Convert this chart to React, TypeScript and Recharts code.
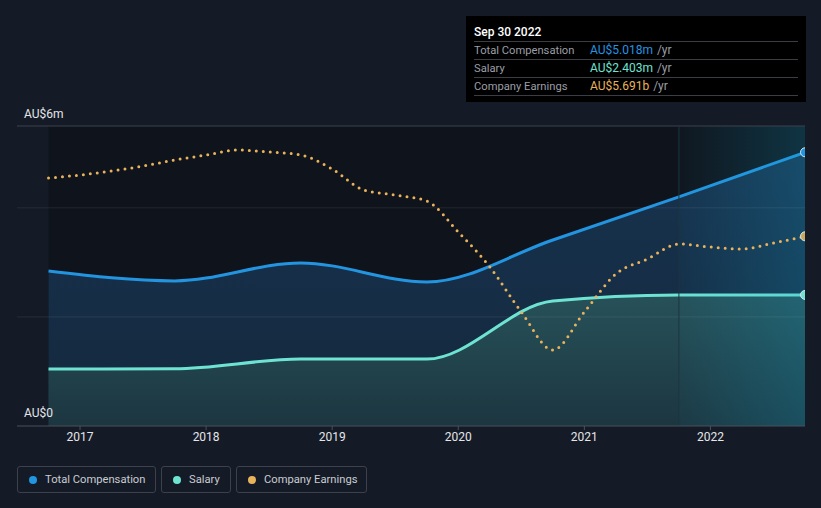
import React from "react";
import {
  ComposedChart,
  Area,
  Line,
  XAxis,
  YAxis,
  ReferenceArea,
  ReferenceLine,
} from "recharts";

// yearly points (Sep 30 of each year), AU$ millions
const compYears = [2016.75, 2017.75, 2018.75, 2019.75, 2020.75, 2021.75, 2022.75];
const totalComp = [2.84, 2.66, 2.99, 2.64, 3.41, 4.2, 5.018];
const salary = [1.044, 1.05, 1.227, 1.227, 2.29, 2.4, 2.403];

// quarterly company earnings, AU$ billions
const earnQuarters = [
  2016.75, 2017, 2017.25, 2017.5, 2017.75, 2018, 2018.25, 2018.5, 2018.75, 2019, 2019.25,
  2019.5, 2019.75, 2020, 2020.25, 2020.5, 2020.75, 2021, 2021.25, 2021.5, 2021.75, 2022,
  2022.25, 2022.5, 2022.75,
];
const earnings = [
  7.44, 7.53, 7.65, 7.8, 7.98, 8.13, 8.28, 8.22, 8.13, 7.71, 7.08, 6.93, 6.75, 5.82, 4.77,
  3.42, 2.28, 3.42, 4.56, 5.01, 5.46, 5.37, 5.31, 5.49, 5.691,
];

const yearTicks = [2017, 2018, 2019, 2020, 2021, 2022];

const BLUE = "#2394e0";
const TEAL = "#6fe3d2";
const GOLD = "#e9b35c";

type Row = { x: number; comp?: number; sal?: number; earn?: number };

const rows: Row[] = earnQuarters.map((x, i) => ({ x, earn: earnings[i] }));
compYears.forEach((x, i) => {
  const r = rows.find((d) => d.x === x);
  if (r) {
    r.comp = totalComp[i];
    r.sal = salary[i];
  }
});

const lastDot = (color: string) => (props: any) => {
  const { cx, cy, index, payload } = props;
  if (payload.x !== 2022.75 || cx == null || cy == null) return <g key={`d${index}`} />;
  return <circle key={`d${index}`} cx={cx} cy={cy} r={4.5} fill={color} stroke="#d8e6ee" strokeWidth={1} />;
};

const legendItems = [
  { name: "Total Compensation", color: BLUE, left: 17, width: 139 },
  { name: "Salary", color: TEAL, left: 161, width: 70 },
  { name: "Company Earnings", color: GOLD, left: 236, width: 131 },
];

const tipRows = [
  { label: "Total Compensation", value: "AU$5.018m", color: BLUE },
  { label: "Salary", value: "AU$2.403m", color: TEAL },
  { label: "Company Earnings", value: "AU$5.691b", color: GOLD },
];

export default function App() {
  return (
    <div
      style={{
        position: "fixed",
        left: 0,
        top: 0,
        width: 821,
        height: 508,
        background: "#151b26",
        fontFamily: "Roboto, sans-serif",
        overflow: "hidden",
      }}
    >
      <ComposedChart
        width={821}
        height={508}
        data={rows}
        margin={{ top: 126, right: 16, bottom: 52, left: 17 }}
      >
        <defs>
          <linearGradient id="compFill" x1="0" y1="0" x2="0" y2="1">
            <stop offset="0%" stopColor="#18334f" />
            <stop offset="100%" stopColor="#13283d" />
          </linearGradient>
          <linearGradient id="salFill" x1="0" y1="0" x2="0" y2="1">
            <stop offset="0%" stopColor="#275159" />
            <stop offset="100%" stopColor="#1c3640" />
          </linearGradient>
          <linearGradient id="hlFill" x1="0" y1="0" x2="1" y2="0">
            <stop offset="0%" stopColor="#12a8d0" stopOpacity={0.03} />
            <stop offset="100%" stopColor="#12a8d0" stopOpacity={0.22} />
          </linearGradient>
        </defs>
        <XAxis
          dataKey="x"
          type="number"
          domain={[2016.5, 2022.75]}
          ticks={yearTicks}
          allowDataOverflow
          height={30}
          axisLine={{ stroke: "#4b505b" }}
          tickLine={{ stroke: "#4b505b" }}
          tickSize={4}
          tick={{ fill: "#e4e6ea", fontSize: 12 }}
          tickFormatter={(v) => String(v)}
        />
        <YAxis yAxisId="comp" hide domain={[0, 5.5]} allowDataOverflow />
        <YAxis yAxisId="earn" hide domain={[0, 9]} allowDataOverflow />
        <ReferenceArea yAxisId="comp" x1={2016.75} x2={2022.75} y1={0} y2={5.5} fill="#0f131b" fillOpacity={1} stroke="none" />
        <Area
          yAxisId="comp"
          type="monotone"
          dataKey="comp"
          connectNulls
          stroke={BLUE}
          strokeWidth={3}
          fill="url(#compFill)"
          fillOpacity={1}
          dot={lastDot(BLUE)}
          activeDot={false}
          isAnimationActive={false}
        />
        <Area
          yAxisId="comp"
          type="monotone"
          dataKey="sal"
          connectNulls
          stroke={TEAL}
          strokeWidth={3}
          fill="url(#salFill)"
          fillOpacity={1}
          dot={lastDot(TEAL)}
          activeDot={false}
          isAnimationActive={false}
        />
        <ReferenceLine yAxisId="comp" y={2} stroke="#ffffff" strokeOpacity={0.08} />
        <ReferenceLine yAxisId="comp" y={4} stroke="#ffffff" strokeOpacity={0.08} />
        <ReferenceLine yAxisId="comp" y={5.5} stroke="#3d424d" />
        <ReferenceArea yAxisId="comp" x1={2021.75} x2={2022.75} y1={0} y2={5.5} fill="url(#hlFill)" fillOpacity={1} stroke="none" />
        <ReferenceLine yAxisId="comp" x={2021.75} stroke="#1b3540" />
        <Line
          yAxisId="earn"
          type="monotone"
          dataKey="earn"
          stroke={GOLD}
          strokeWidth={3}
          strokeDasharray="0 7"
          strokeLinecap="round"
          dot={lastDot("#c8a860")}
          activeDot={false}
          isAnimationActive={false}
        />
      </ComposedChart>

      <div style={{ position: "absolute", left: 24, top: 107, fontSize: 12, color: "#e4e6ea" }}>AU$6m</div>
      <div style={{ position: "absolute", left: 24, top: 406, fontSize: 12, color: "#e4e6ea" }}>AU$0</div>

      <div
        style={{
          position: "absolute",
          left: 466,
          top: 16,
          width: 340,
          height: 86,
          background: "#000",
          boxSizing: "border-box",
          padding: "7px 8px 0 8px",
        }}
      >
        <div style={{ color: "#fff", fontSize: 12, fontWeight: 500, height: 18, lineHeight: "18px" }}>Sep 30 2022</div>
        {tipRows.map((r) => (
          <div
            key={r.label}
            style={{
              borderTop: "1px solid #3a3d44",
              height: 17,
              lineHeight: "17px",
              fontSize: 11.2,
              display: "flex",
              whiteSpace: "nowrap",
            }}
          >
            <span style={{ color: "#9a9ea6", width: 116 }}>{r.label}</span>
            <span style={{ color: r.color, fontSize: 12 }}>{r.value}</span>
            <span style={{ color: "#9a9ea6", marginLeft: 4, fontSize: 12 }}>/yr</span>
          </div>
        ))}
        <div style={{ borderTop: "1px solid #3a3d44" }} />
      </div>

      {legendItems.map((l) => (
        <div
          key={l.name}
          style={{
            position: "absolute",
            left: l.left,
            top: 466,
            width: l.width,
            height: 27,
            boxSizing: "border-box",
            border: "1px solid #3c414c",
            borderRadius: 3,
            display: "flex",
            alignItems: "center",
            paddingLeft: 11,
            fontSize: 11.2,
            color: "#c9ccd2",
            whiteSpace: "nowrap",
          }}
        >
          <span
            style={{
              width: 8,
              height: 8,
              borderRadius: "50%",
              background: l.color,
              marginRight: 8,
              display: "inline-block",
              flexShrink: 0,
            }}
          />
          {l.name}
        </div>
      ))}
    </div>
  );
}
